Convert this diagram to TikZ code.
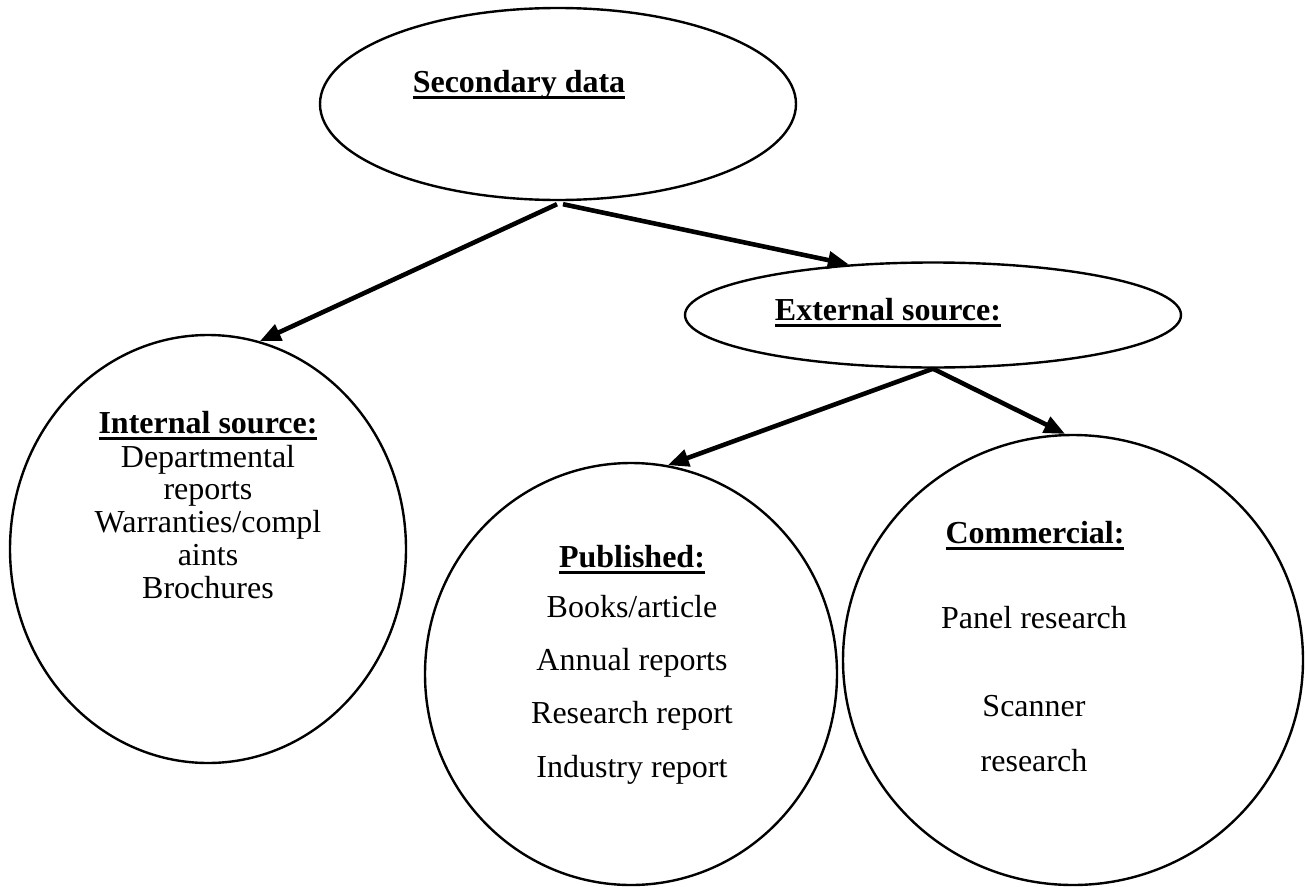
\documentclass[tikz,border=0pt]{standalone}
\usepackage{fontspec}
\setmainfont{Liberation Serif}
\usetikzlibrary{shapes.geometric,arrows.meta}
\newcommand{\myul}[1]{\setbox0\hbox{#1}\rlap{\rule[-7pt]{\wd0}{3pt}}\box0}
\tikzset{
  bubble/.style={draw,line width=2.4pt,ellipse,inner sep=0pt},
  head/.style={anchor=base,inner sep=0pt,font=\fontsize{32}{34}\selectfont\bfseries},
  body/.style={anchor=base,inner sep=0pt,font=\fontsize{32}{34}\selectfont},
  arr/.style={line width=4.6pt,-{Triangle[length=21pt,width=17pt]}}
}
\begin{document}
\begin{tikzpicture}[x=1pt,y=-1pt]
\useasboundingbox[fill=white] (0,0) rectangle (1306,886);
% ellipses
\node[bubble,minimum width=476pt,minimum height=192pt] (sec) at (558,104) {};
\node[bubble,minimum width=496pt,minimum height=105pt] (ext) at (933,315) {};
\node[bubble,minimum width=396pt,minimum height=428pt] (int) at (208,549) {};
\node[bubble,minimum width=412pt,minimum height=422pt] (pub) at (631,674) {};
\node[bubble,minimum width=460pt,minimum height=450pt] (com) at (1073,660) {};
% texts
\node[head] (tsec) at (519,92) {\myul{Secondary data}};
\node[head] (text) at (888,320) {\myul{External source:}};
\node[head] (tint) at (208,433) {\myul{Internal source:}};
\node[body] (i1) at (208,467) {Departmental};
\node[body] (i2) at (208,499) {reports};
\node[body] (i3) at (208,532) {Warranties/compl};
\node[body] (i4) at (208,565) {aints};
\node[body] (i5) at (208,598) {Brochures};
\node[head] (tpub) at (632,567) {\myul{Published:}};
\node[body] (p1) at (632,617) {Books/article};
\node[body] (p2) at (632,670) {Annual reports};
\node[body] (p3) at (632,723) {Research report};
\node[body] (p4) at (632,777) {Industry report};
\node[head] (tcom) at (1035,543) {\myul{Commercial:}};
\node[body] (c1) at (1034,628) {Panel research};
\node[body] (c2) at (1034,716) {Scanner};
\node[body] (c3) at (1034,771) {research};
% arrows
\draw[arr] ([xshift=-1pt,yshift=-3pt]sec.south) -- (int.76);
\draw[arr] ([xshift=5pt,yshift=-3pt]sec.south) -- (ext.149);
\draw[arr] (ext.south) -- (pub.80);
\draw[arr] (ext.south) -- (com.92);
\end{tikzpicture}
\end{document}
